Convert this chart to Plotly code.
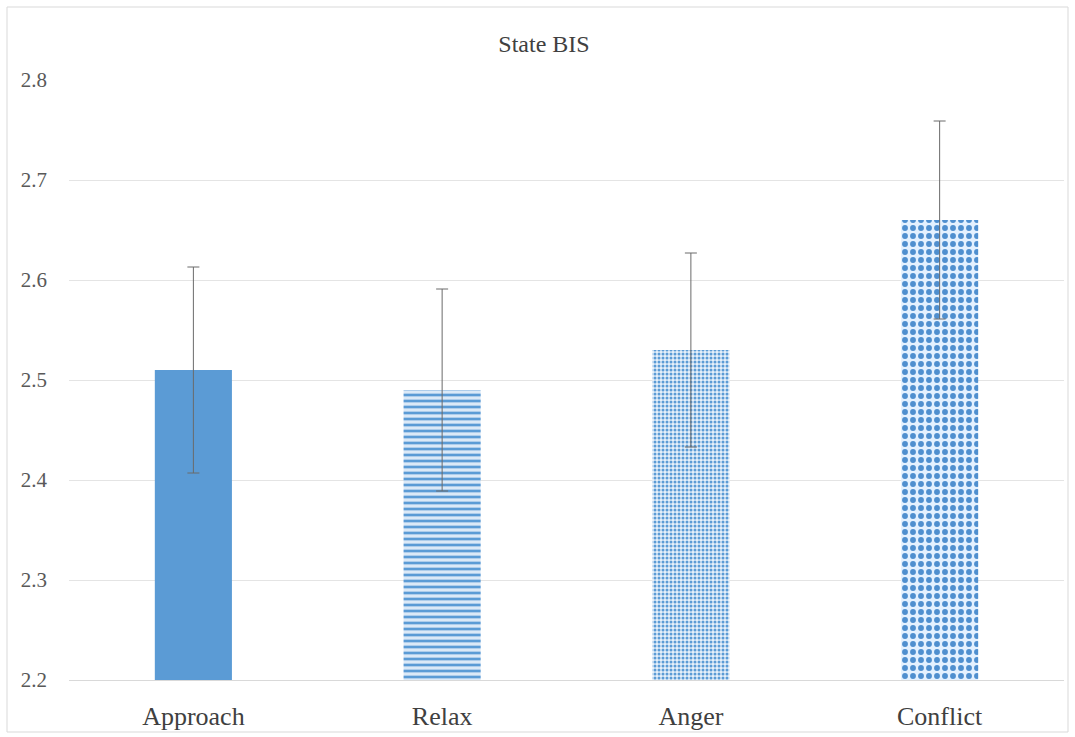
import plotly.graph_objects as go

categories = ["Approach", "Relax", "Anger", "Conflict"]
means = [2.51, 2.49, 2.53, 2.66]
errors = [0.103, 0.101, 0.097, 0.099]
y_ticks = [2.2, 2.3, 2.4, 2.5, 2.6, 2.7, 2.8]

blue = "#5B9BD5"
patterns = [
    dict(shape=""),
    dict(shape="-", fgcolor=blue, bgcolor="#dbe9f7", size=6, solidity=0.45, fillmode="replace"),
    dict(shape=".", fgcolor=blue, bgcolor="#e6f0fa", size=4, solidity=0.45, fillmode="replace"),
    dict(shape=".", fgcolor="#4f8fcf", bgcolor="#e4f1ff", size=8, solidity=0.42, fillmode="replace"),
]

fig = go.Figure()
for c, m, e, p in zip(categories, means, errors, patterns):
    fig.add_trace(go.Bar(
        x=[c], y=[m], width=0.31,
        marker=dict(color=blue, pattern=p, line=dict(width=0)),
        error_y=dict(type="data", array=[e], visible=True, color="#6a6a6a", thickness=1, width=6),
        showlegend=False,
    ))

W, H = 1075, 737
L, R, T, B = 69, 11, 80, 57
pw, ph = W - L - R, H - T - B

def px(x):
    return (x - L) / pw

def py(y):
    return (H - B - y) / ph

fig.add_shape(type="rect", xref="paper", yref="paper",
              x0=px(7), x1=px(1068), y0=py(732), y1=py(7),
              line=dict(color="#d9d9d9", width=1), fillcolor="rgba(0,0,0,0)", layer="below")

fig.update_layout(
    width=W, height=H,
    margin=dict(l=L, r=R, t=T, b=B),
    paper_bgcolor="white", plot_bgcolor="white",
    font=dict(family="Liberation Serif", color="#404040"),
    title=dict(text="State BIS", x=544 / W, xanchor="center", xref="container",
               y=1 - 44 / H, yanchor="middle",
               font=dict(size=24, color="#404040", family="Liberation Serif")),
    bargap=0.69,
    xaxis=dict(showgrid=False, showline=True, linecolor="#d9d9d9", linewidth=1, automargin=False,
               tickfont=dict(size=26, color="#404040"), ticks="", ticklabelstandoff=13),
    yaxis=dict(range=[2.2, 2.8], tickvals=y_ticks, tickformat=".1f", automargin=False,
               showgrid=True, gridcolor="#e4e4e4", gridwidth=1, zeroline=False,
               showline=False, ticks="", tickfont=dict(size=21, color="#595959"),
               ticklabelstandoff=21),
)

fig.write_html("out.html", config={"displayModeBar": False},
               post_script="document.body.style.margin='0';document.body.style.overflow='hidden';")
